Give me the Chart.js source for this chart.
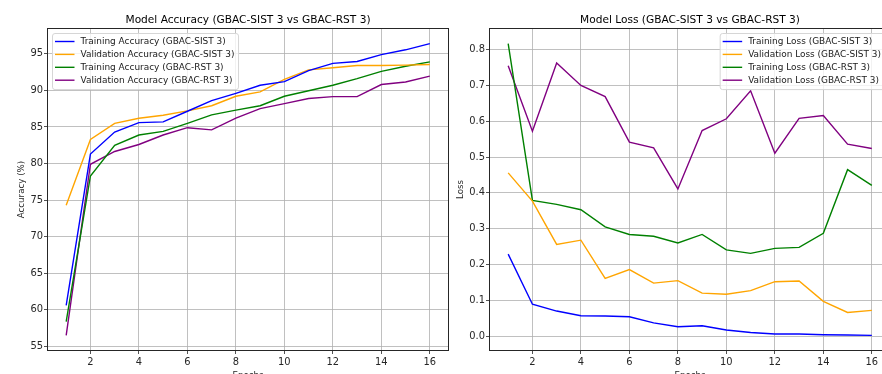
<!DOCTYPE html>
<html>
<head>
<meta charset="utf-8">
<title>Model Accuracy / Loss</title>
<script src="https://cdn.jsdelivr.net/npm/chart.js@4.4.1/dist/chart.umd.min.js"></script>
<style>
    html, body { margin: 0; padding: 0; background: #ffffff; }
    body { width: 882px; height: 374px; overflow: hidden; position: relative; }
    canvas { position: absolute; top: 0; }
    #accChart { left: 0; }
    #lossChart { left: 450px; }
</style>
</head>
<body>
<canvas id="accChart" width="450" height="400"></canvas>
<canvas id="lossChart" width="460" height="400"></canvas>
<script>
// Data
const epochs = [1, 2, 3, 4, 5, 6, 7, 8, 9, 10, 11, 12, 13, 14, 15, 16];
const xTicks = [2, 4, 6, 8, 10, 12, 14, 16];
const accTicks = [55, 60, 65, 70, 75, 80, 85, 90, 95];
const lossTicks = [0, 0.1, 0.2, 0.3, 0.4, 0.5, 0.6, 0.7, 0.8];

const trainAccSist = [60.6, 81.3, 84.3, 85.6, 85.7, 87.15, 88.6, 89.6, 90.7, 91.2, 92.7, 93.7, 93.95, 94.9, 95.55, 96.4];
const valAccSist = [74.3, 83.3, 85.5, 86.2, 86.6, 87.2, 87.9, 89.2, 89.8, 91.5, 92.8, 93.1, 93.4, 93.4, 93.45, 93.55];
const trainAccRst = [58.4, 78.3, 82.5, 83.9, 84.4, 85.5, 86.65, 87.3, 87.9, 89.2, 89.95, 90.7, 91.6, 92.6, 93.3, 93.9];
const valAccRst = [56.5, 79.9, 81.65, 82.6, 83.9, 84.9, 84.6, 86.2, 87.5, 88.2, 88.9, 89.15, 89.15, 90.8, 91.15, 91.95];

const trainLossSist = [0.229, 0.089, 0.070, 0.057, 0.056, 0.054, 0.037, 0.026, 0.029, 0.017, 0.010, 0.006, 0.006, 0.004, 0.003, 0.002];
const valLossSist = [0.456, 0.377, 0.256, 0.268, 0.161, 0.186, 0.148, 0.155, 0.120, 0.117, 0.127, 0.152, 0.154, 0.097, 0.066, 0.072];
const trainLossRst = [0.817, 0.379, 0.368, 0.353, 0.305, 0.284, 0.279, 0.260, 0.284, 0.241, 0.231, 0.245, 0.248, 0.287, 0.465, 0.421];
const valLossRst = [0.755, 0.572, 0.763, 0.700, 0.669, 0.542, 0.526, 0.411, 0.574, 0.607, 0.685, 0.511, 0.608, 0.616, 0.536, 0.524];

const FONT = '"DejaVu Sans", sans-serif';

// matplotlib-like 5% margin around the data
function paddedRange(arrays) {
    const all = [].concat(...arrays);
    const lo = Math.min(...all), hi = Math.max(...all);
    const m = (hi - lo) * 0.05;
    return { min: lo - m, max: hi + m };
}

function toPoints(values) {
    return values.map((v, i) => ({ x: epochs[i], y: v }));
}

function makeDataset(label, values, color) {
    return {
        label: label,
        data: toPoints(values),
        borderColor: color,
        backgroundColor: color,
        borderWidth: 1.4,
        pointRadius: 0,
        tension: 0,
        fill: false
    };
}

// frame around the plot area (all four spines)
const frame = {
    id: 'frame',
    afterDatasetsDraw(chart) {
        const { ctx, chartArea: a } = chart;
        ctx.save();
        ctx.strokeStyle = '#262626';
        ctx.lineWidth = 1;
        ctx.strokeRect(Math.round(a.left) - 0.5, Math.round(a.top) - 0.5,
            Math.round(a.right - a.left) + 1, Math.round(a.bottom - a.top) + 1);
        ctx.restore();
    }
};

// title centred over the plot area, not the whole canvas
const axesTitle = {
    id: 'axesTitle',
    afterDraw(chart, args, opts) {
        const { ctx, chartArea: a } = chart;
        ctx.save();
        ctx.font = '10.6px ' + FONT;
        ctx.fillStyle = '#000000';
        ctx.textAlign = 'center';
        ctx.textBaseline = 'middle';
        ctx.fillText(opts.text, (a.left + a.right) / 2, a.top - 9);
        ctx.restore();
    }
};

// legend box drawn inside the plot area, matplotlib style
const boxLegend = {
    id: 'boxLegend',
    afterDraw(chart, args, opts) {
        const { ctx, chartArea: a } = chart;
        const sets = chart.data.datasets;
        ctx.save();
        ctx.font = '8.95px ' + FONT;
        const textW = Math.max(...sets.map(d => ctx.measureText(d.label).width));
        const rowH = 12.9;
        const w = 28 + textW + 4;
        const h = sets.length * rowH + 4.5;
        const x = opts.side === 'right' ? a.right - 5 - w : a.left + 4.5;
        const y = a.top + 4.5;
        ctx.beginPath();
        ctx.roundRect(x, y, w, h, 2.5);
        ctx.fillStyle = 'rgba(255,255,255,0.8)';
        ctx.fill();
        ctx.strokeStyle = '#d6d6d6';
        ctx.lineWidth = 1;
        ctx.stroke();
        sets.forEach((d, i) => {
            const cy = y + 8 + i * rowH;
            ctx.strokeStyle = d.borderColor;
            ctx.lineWidth = 1.4;
            ctx.beginPath();
            ctx.moveTo(x + 2.5, cy);
            ctx.lineTo(x + 22, cy);
            ctx.stroke();
            ctx.fillStyle = '#1a1a1a';
            ctx.textBaseline = 'middle';
            ctx.fillText(d.label, x + 28, cy + 0.5);
        });
        ctx.restore();
    }
};

function makeOptions(cfg) {
    const yr = paddedRange(cfg.series);
    return {
        responsive: false,
        animation: false,
        events: [],
        layout: { padding: { left: 0, right: cfg.padRight, top: 29, bottom: 0 } },
        plugins: {
            legend: { display: false },
            tooltip: { enabled: false },
            title: { display: false },
            axesTitle: { text: cfg.title },
            boxLegend: { side: cfg.legendSide }
        },
        scales: {
            x: {
                type: 'linear',
                min: 0.25,
                max: 16.75,
                afterBuildTicks: s => { s.ticks = xTicks.map(v => ({ value: v })); },
                afterFit: s => { s.height = 50; },
                border: { display: false },
                grid: { color: '#b0b0b0', lineWidth: 0.8, drawTicks: true, tickLength: 4, tickColor: '#262626' },
                ticks: { color: '#262626', font: { family: FONT, size: 9.9 }, padding: 2, maxRotation: 0 },
                title: {
                    display: true,
                    text: 'Epochs',
                    color: '#262626',
                    font: { family: FONT, size: 8.7 },
                    padding: { top: 2, bottom: 19 }
                }
            },
            y: {
                min: yr.min,
                max: yr.max,
                afterBuildTicks: s => { s.ticks = cfg.yTicks.map(v => ({ value: v })); },
                afterFit: s => { s.width = cfg.yWidth; },
                border: { display: false },
                grid: { color: '#b0b0b0', lineWidth: 0.8, drawTicks: true, tickLength: 4, tickColor: '#262626' },
                ticks: {
                    color: '#262626',
                    font: { family: FONT, size: 9.9 },
                    padding: 1,
                    callback: cfg.tickFormat
                },
                title: {
                    display: true,
                    text: cfg.yLabel,
                    color: '#262626',
                    font: { family: FONT, size: 8.7 },
                    padding: { top: cfg.yTitlePad, bottom: 0 }
                }
            }
        }
    };
}

document.addEventListener('DOMContentLoaded', () => {
    // Accuracy chart (left)
    new Chart(document.getElementById('accChart'), {
        type: 'line',
        data: {
            datasets: [
                makeDataset('Training Accuracy (GBAC-SIST 3)', trainAccSist, '#0000ff'),
                makeDataset('Validation Accuracy (GBAC-SIST 3)', valAccSist, '#ffa500'),
                makeDataset('Training Accuracy (GBAC-RST 3)', trainAccRst, '#008000'),
                makeDataset('Validation Accuracy (GBAC-RST 3)', valAccRst, '#800080')
            ]
        },
        options: makeOptions({
            title: 'Model Accuracy (GBAC-SIST 3 vs GBAC-RST 3)',
            series: [trainAccSist, valAccSist, trainAccRst, valAccRst],
            yTicks: accTicks,
            yWidth: 48,
            padRight: 2,
            yLabel: 'Accuracy (%)',
            yTitlePad: 16.5,
            legendSide: 'left',
            tickFormat: v => String(v)
        }),
        plugins: [frame, axesTitle, boxLegend]
    });

    // Loss chart (right)
    new Chart(document.getElementById('lossChart'), {
        type: 'line',
        data: {
            datasets: [
                makeDataset('Training Loss (GBAC-SIST 3)', trainLossSist, '#0000ff'),
                makeDataset('Validation Loss (GBAC-SIST 3)', valLossSist, '#ffa500'),
                makeDataset('Training Loss (GBAC-RST 3)', trainLossRst, '#008000'),
                makeDataset('Validation Loss (GBAC-RST 3)', valLossRst, '#800080')
            ]
        },
        options: makeOptions({
            title: 'Model Loss (GBAC-SIST 3 vs GBAC-RST 3)',
            series: [trainLossSist, valLossSist, trainLossRst, valLossRst],
            yTicks: lossTicks,
            yWidth: 40,
            padRight: 20,
            yLabel: 'Loss',
            yTitlePad: 5.5,
            legendSide: 'right',
            tickFormat: v => v.toFixed(1)
        }),
        plugins: [frame, axesTitle, boxLegend]
    });
});
</script>
</body>
</html>
